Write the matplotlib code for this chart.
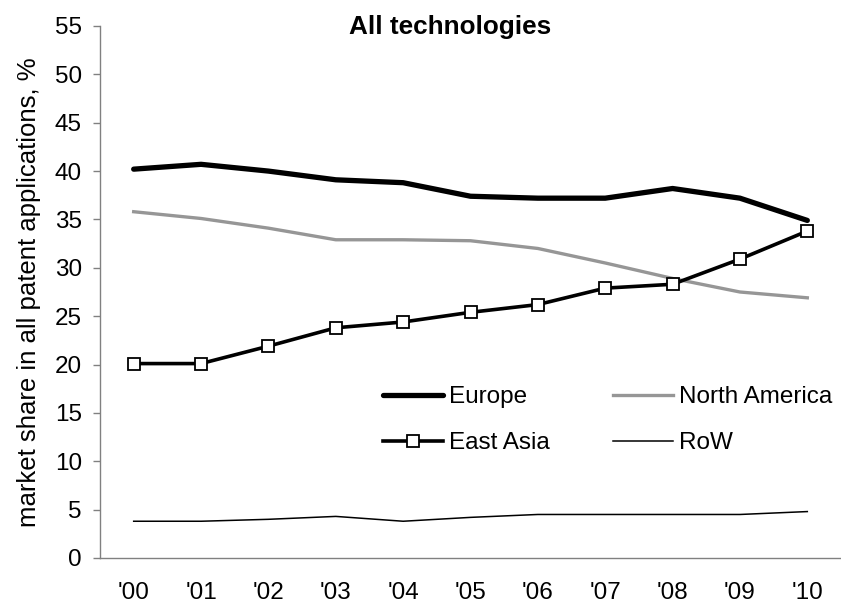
import matplotlib
matplotlib.use("Agg")
import matplotlib.pyplot as plt

plt.rcParams['font.family'] = ['Liberation Sans', 'DejaVu Sans']

anos = ["'00", "'01", "'02", "'03", "'04", "'05", "'06", "'07", "'08", "'09", "'10"]
europa = [40.2, 40.7, 40.0, 39.1, 38.8, 37.4, 37.2, 37.2, 38.2, 37.2, 34.9]
america_norte = [35.8, 35.1, 34.1, 32.9, 32.9, 32.8, 32.0, 30.5, 28.9, 27.5, 26.9]
asia_leste = [20.1, 20.1, 21.9, 23.8, 24.4, 25.4, 26.2, 27.9, 28.3, 30.9, 33.8]
resto = [3.8, 3.8, 4.0, 4.3, 3.8, 4.2, 4.5, 4.5, 4.5, 4.5, 4.8]

fs = 17.5

fig = plt.figure(figsize=(8.41, 6.07), dpi=100)
ax = fig.add_axes([100 / 841, 1 - 558 / 607, 741 / 841, 532 / 607])

x = range(len(anos))
l_eu, = ax.plot(x, europa, color='black', lw=3.8, solid_capstyle='round', label='Europe')
l_na, = ax.plot(x, america_norte, color='#969696', lw=2.4, label='North America')
l_ea, = ax.plot(x, asia_leste, color='black', lw=2.6, marker='s', markersize=9,
                markerfacecolor='white', markeredgecolor='black', markeredgewidth=1.3,
                label='East Asia')
l_rw, = ax.plot(x, resto, color='black', lw=1.1, label='RoW')

ax.set_xlim(-0.5, 10.5)
ax.set_ylim(0, 55)
ax.set_yticks(range(0, 56, 5))
ax.set_xticks(list(x))
ax.set_xticklabels(anos)

for s in ['top', 'right']:
    ax.spines[s].set_visible(False)
for s in ['left', 'bottom']:
    ax.spines[s].set_color('#808080')
    ax.spines[s].set_linewidth(1.0)

ax.tick_params(axis='y', direction='out', length=5, width=1, color='#808080',
               labelsize=fs, pad=8)
ax.tick_params(axis='x', length=0, labelsize=fs, pad=17)

ax.set_ylabel('market share in all patent applications, %', fontsize=18.5, labelpad=10)

fig.text(450 / 841, 1 - 27 / 607, 'All technologies', fontsize=18.8, fontweight='bold',
         ha='center', va='center')

ax.legend(handles=[l_eu, l_ea, l_na, l_rw], ncol=2, frameon=False, fontsize=fs,
          loc='upper left', bbox_to_anchor=(383 / 841, 1 - 386 / 607),
          bbox_transform=fig.transFigure, borderpad=0, borderaxespad=0,
          handlelength=2.47, handletextpad=0.25, columnspacing=2.6, labelspacing=1.0)

fig.savefig('out.png', dpi=100)
